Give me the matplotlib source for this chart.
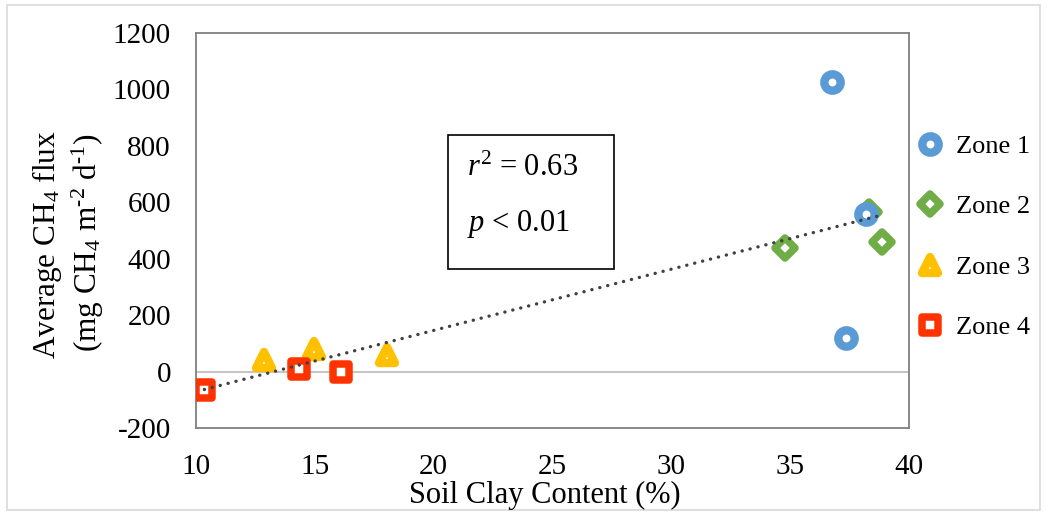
import matplotlib
matplotlib.use("Agg")
import matplotlib.pyplot as plt
import numpy as np
from matplotlib.markers import MarkerStyle
from matplotlib.patches import Rectangle

# values
zone1_clay = [36.75, 38.2, 37.35]
zone1_flux = [1025, 558, 120]
zone2_clay = [34.8, 38.3, 38.85]
zone2_flux = [438, 565, 460]
zone3_clay = [12.85, 14.95, 18.05]
zone3_flux = [40, 80, 60]
zone4_clay = [10.35, 14.35, 16.1]
zone4_flux = [-64, 10, -3]

# name, x, y, marker, colour, size, edge width, zorder
ZONES = [
    ("Zone 1", zone1_clay, zone1_flux, "o", "#5B9BD5", 11.8, 6.0, 4),
    ("Zone 2", zone2_clay, zone2_flux, "D", "#70AD47", 9.8, 5.4, 3),
    ("Zone 3", zone3_clay, zone3_flux, "^", "#FFC000", 11.5, 6.0, 3),
    ("Zone 4", zone4_clay, zone4_flux, "s", "#FF3300", 11.8, 5.4, 3),
]

plt.rcParams.update({
    "font.family": ["Liberation Serif", "DejaVu Serif"],
    "font.size": 20,
    "axes.unicode_minus": False,
    "mathtext.fontset": "custom",
    "mathtext.rm": "Liberation Serif",
    "mathtext.it": "Liberation Serif:italic",
})

fig = plt.figure(figsize=(10.47, 5.15), dpi=100)
ax = fig.add_axes([196 / 1047, 1 - 428 / 515, 713 / 1047, 395 / 515])

# outer chart border
fig.patches.append(Rectangle((7 / 1047, 5 / 515), 1033 / 1047, 505 / 515,
                             transform=fig.transFigure, fill=False,
                             edgecolor="#D9D9D9", linewidth=1.2))

handles = []
for name, xs, ys, mk, col, ms, mew, z in ZONES:
    h, = ax.plot(xs, ys, linestyle="none",
                 marker=MarkerStyle(mk, joinstyle="round"), markersize=ms,
                 markerfacecolor="white", markeredgecolor=col,
                 markeredgewidth=mew, label=name, zorder=z)
    handles.append(h)

# linear trendline over all points
all_x = np.array(zone1_clay + zone2_clay + zone3_clay + zone4_clay)
all_y = np.array(zone1_flux + zone2_flux + zone3_flux + zone4_flux)
slope, intercept = np.polyfit(all_x, all_y, 1)
tx = np.array([all_x.min(), all_x.max()])
ax.plot(tx, slope * tx + intercept, color="#404040", linewidth=2.4,
        linestyle=(0, (0.05, 2.4)), dash_capstyle="round", zorder=5)

ax.axhline(0, color="#BFBFBF", linewidth=1.3, zorder=1)

ax.set_xlim(10, 40)
ax.set_ylim(-200, 1200)
ax.set_xticks(np.arange(10, 41, 5))
ax.set_yticks(np.arange(-200, 1201, 200))
ax.tick_params(length=0, labelsize=21)
ax.tick_params(axis="x", pad=19)
ax.tick_params(axis="y", pad=18)
for s in ax.spines.values():
    s.set_color("#808080")
    s.set_linewidth(1.3)

fig.text(545 / 1047, 1 - 495 / 515, "Soil Clay Content (%)", fontsize=22,
         ha="center", va="center")
fig.text(47 / 1047, 1 - 245 / 515, "Average CH$_4$ flux", fontsize=22.5,
         rotation=90, ha="center", va="center")
fig.text(88 / 1047, 1 - 243 / 515,
         r"(mg CH$_4$ m$^{\text{-2}}$ d$^{\text{-1}}$)", fontsize=22.5,
         rotation=90, ha="center", va="center")

# stats box
fig.patches.append(Rectangle((448 / 1047, 1 - 269 / 515), 166 / 1047, 134 / 515,
                             transform=fig.transFigure, fill=False,
                             edgecolor="black", linewidth=1.2, zorder=6))
fig.text(467 / 1047, 1 - 168 / 515, "$r^2$ = 0.63", fontsize=22, va="center")
fig.text(467 / 1047, 1 - 224 / 515, "$p$ < 0.01", fontsize=22, va="center")

fig.legend(handles=handles, loc="upper left",
           bbox_to_anchor=(906 / 1047, 1 - 124 / 515), frameon=False,
           fontsize=19, handlelength=1.0, handletextpad=0.48,
           labelspacing=1.4, borderaxespad=0)

fig.savefig("out.png", dpi=100)
